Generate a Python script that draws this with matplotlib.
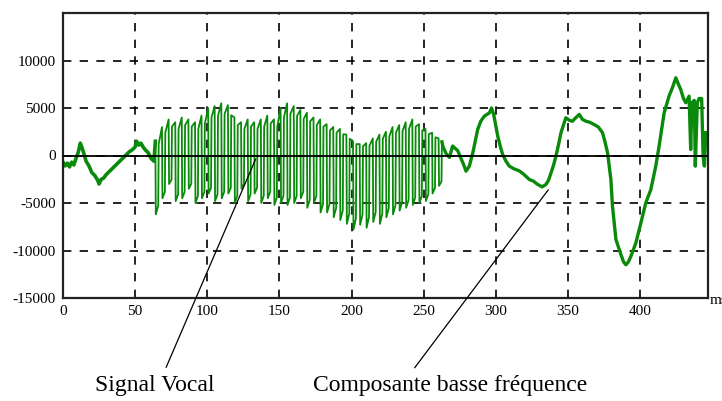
import matplotlib
matplotlib.use("Agg")
import matplotlib.pyplot as plt
import numpy as np

# ---- data (time in ms, amplitude) ----
start_t = [0, 1.5, 3, 4.5, 6, 7.5, 9, 10.5, 12, 13, 14.5, 16, 18, 20, 22, 24, 25, 26.5,
           28, 30, 32, 34, 36, 38, 40, 42, 44, 46, 48, 50, 51, 52.5, 54, 55.5, 57, 59,
           61, 63]
start_v = [-700, -1100, -800, -1200, -700, -1000, -300, 300, 1300, 900, 200, -600,
           -1100, -1800, -2100, -2600, -3000, -2500, -2400, -2000, -1700, -1400, -1100,
           -800, -500, -200, 100, 400, 600, 900, 1500, 1100, 1300, 900, 600, 300, -300,
           -600]

vocal_t = [64, 68.6, 73.2, 77.8, 82.3, 86.9, 91.5, 96.0, 100.6, 105.1, 109.7, 114.3,
           118.8, 123.4, 128.0, 132.5, 137.1, 141.6, 146.2, 150.8, 155.3, 159.9, 164.5,
           169.0, 173.6, 178.2, 182.7, 187.3, 191.9, 196.4, 201.0, 205.6, 210.1, 214.7,
           219.3, 223.8, 228.4, 233.0, 237.5, 242.1, 246.7, 251.2, 255.8, 260.3]
vocal_max = [1500, 3000, 3800, 3500, 4000, 3800, 3500, 4200, 5000, 5200, 5500, 5300,
             4000, 3500, 3800, 3500, 3800, 4200, 3800, 5000, 5500, 5200, 4800, 4500,
             4000, 3800, 3300, 3000, 2800, 2200, 1500, 1200, 1300, 1800, 2200, 2500,
             3000, 3200, 3500, 3800, 3300, 2800, 2400, 1800]
vocal_min = [-6200, -4500, -3000, -4800, -4500, -3500, -5000, -4500, -4000, -4800,
             -4500, -4000, -5000, -3500, -4800, -4000, -5000, -4500, -5200, -5000,
             -5200, -5000, -4500, -5500, -5000, -6000, -6000, -6500, -6800, -7200,
             -7800, -7300, -7600, -7000, -7200, -6500, -6200, -5800, -5500, -5200,
             -5000, -4800, -4000, -3200]

end_t = [263.2, 265.5, 267.8, 270, 273.6, 275.9, 277.5, 279.3, 281.6, 284, 287.4,
         289.5, 292, 295.5, 297, 298.5, 301.3, 303, 304.7, 307, 309.3, 312.5, 316.2,
         319.5, 323.2, 326, 329, 332, 334.7, 336.5, 338.2, 340, 341.6, 343.5, 345.1,
         347, 348.5, 351, 353.1, 355.5, 357.8, 360, 362.4, 365, 368.1, 371, 373.9,
         375.5, 377.4, 379.7, 380.8, 383.2, 386.6, 388.5, 390.1, 391.8, 393.6, 397,
         400.5, 403.9, 407.4, 410.8, 413.1, 416.6, 420, 422.5, 424.7, 426.5, 428.1,
         430, 431.6, 433.9, 435, 435.8, 437.5, 438.2, 439.6, 440.8, 442.6, 443.6,
         444.5, 445.5]
end_v = [1000, 200, -200, 1000, 500, -350, -900, -1650, -1120, 280, 2740, 3600, 4140,
         4490, 5000, 4300, 2030, 1000, 100, -600, -1120, -1400, -1620, -2000, -2530,
         -2700, -3050, -3300, -3050, -2600, -1820, -1000, -70, 1200, 2390, 3300, 3970,
         3700, 3610, 4000, 4320, 3800, 3610, 3500, 3260, 3000, 2390, 1500, 280, -2530,
         -5340, -8850, -10400, -11200, -11500, -11200, -10600, -9200, -7090, -4980,
         -3580, -1120, 980, 4490, 6250, 7200, 8180, 7500, 6950, 6000, 5550, 6250, 630,
         5550, 5800, -1120, 5550, 6000, 6000, -70, -1120, 2400]

x_ticks = [0, 50, 100, 150, 200, 250, 300, 350, 400]
y_ticks = [-15000, -10000, -5000, 0, 5000, 10000]

# ---- build vocal waveform from the read peaks (two near-vertical strokes per cycle) ----
voc_x, voc_y = [], []
for t, hi, lo in zip(vocal_t, vocal_max, vocal_min):
    voc_x += [t, t + 0.3, t + 2.0, t + 2.3]
    voc_y += [hi, lo, lo * 0.85, hi * 0.8]

green = "#0a8a0a"
fig = plt.figure(figsize=(7.22, 4.01), dpi=100)
ax = fig.add_axes([63 / 722, 1 - 298 / 401, 645 / 722, 285 / 401])

ax.plot(start_t + [vocal_t[0]], start_v + [vocal_max[0]], color=green, lw=2.6,
        solid_joinstyle="round")
ax.plot(voc_x, voc_y, color=green, lw=1.3)
ax.plot([voc_x[-1]] + end_t, [voc_y[-1]] + end_v, color=green, lw=2.4,
        solid_joinstyle="round")

ax.set_xlim(0, 447)
ax.set_ylim(-15000, 15000)
ax.set_xticks(x_ticks)
ax.set_yticks(y_ticks)
ax.set_xticklabels([str(v) for v in x_ticks], family="Liberation Serif", fontsize=11)
ax.set_yticklabels([str(v) for v in y_ticks], family="Liberation Serif", fontsize=11)
ax.tick_params(length=0, pad=5)
ax.grid(True, color="black", linestyle=(0, (5, 5)), lw=1.2)
ax.axhline(0, color="black", lw=1.3, zorder=3)
for s in ax.spines.values():
    s.set_color("#222222")
    s.set_linewidth(1.6)

fig.text(710 / 722, 1 - 300 / 401, "ms", family="Liberation Serif", fontsize=11,
         ha="left", va="center")

ax.annotate("", xy=(134.3, -100), xycoords="data", xytext=(165, 31),
            textcoords="figure pixels",
            arrowprops=dict(arrowstyle="-", color="black", lw=0.9))
ax.annotate("", xy=(337.5, -3370), xycoords="data", xytext=(413, 31),
            textcoords="figure pixels",
            arrowprops=dict(arrowstyle="-", color="black", lw=0.9))
fig.text(155 / 722, 1 - 385 / 401, "Signal Vocal", family="Liberation Serif",
         fontsize=17, ha="center", va="center")
fig.text(450 / 722, 1 - 385 / 401, "Composante basse fréquence",
         family="Liberation Serif", fontsize=17, ha="center", va="center")

fig.savefig("out.png", dpi=100)
